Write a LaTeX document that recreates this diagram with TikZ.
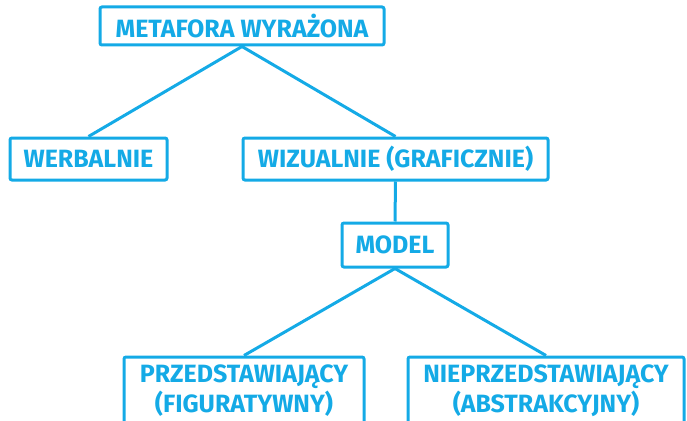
\documentclass[tikz,border=0pt]{standalone}
\usepackage{fontspec}
\setmainfont{Fira Sans}
\usepackage{tikz}
\usetikzlibrary{positioning}
\definecolor{niebieski}{RGB}{20,170,230}
\tikzset{
	ramka/.style={draw=niebieski,line width=3pt,rounded corners=2pt,text=niebieski,
		font=\fontsize{25}{30}\selectfont\bfseries,align=center,inner sep=0pt},
	linia/.style={draw=niebieski,line width=3pt}
}

\begin{document}
\begin{tikzpicture}[x=1pt,y=-1pt]
	\useasboundingbox (0,0) rectangle (687,420);
	\clip (0,0) rectangle (687,420);

	\node[ramka,minimum width=284pt,minimum height=38pt] (metafora) at (242,26) {METAFORA WYRAŻONA};
	\node[ramka,minimum width=157pt,minimum height=42pt] (werbalnie) at (88.5,159) {WERBALNIE};
	\node[ramka,minimum width=305pt,minimum height=42pt] (wizualnie) at (395.5,159) {WIZUALNIE (GRAFICZNIE)};
	\node[ramka,minimum width=106pt,minimum height=44pt] (model) at (395,245) {MODEL};
	\node[ramka,minimum width=240pt,minimum height=68pt] (przedst) at (244,391) {PRZEDSTAWIAJĄCY\\(FIGURATYWNY)};
	\node[ramka,minimum width=276pt,minimum height=68pt] (nieprzedst) at (546,391) {NIEPRZEDSTAWIAJĄCY\\(ABSTRAKCYJNY)};

	\draw[linia] (metafora.south) -- (werbalnie.north);
	\draw[linia] (metafora.south) -- (wizualnie.north);
	\draw[linia] (wizualnie.south) -- (model.north);
	\draw[linia] (model.south) -- (przedst.north);
	\draw[linia] (model.south) -- (nieprzedst.north);
\end{tikzpicture}
\end{document}
